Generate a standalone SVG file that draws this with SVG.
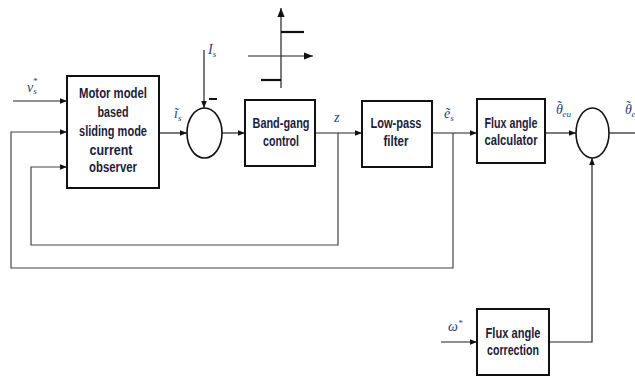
<svg xmlns="http://www.w3.org/2000/svg" width="635" height="377" viewBox="0 0 635 377">
<defs>
<marker id="arr" viewBox="0 0 10 10" refX="10" refY="5" markerWidth="7" markerHeight="7" markerUnits="userSpaceOnUse" orient="auto">
<path d="M0,1 L10,5 L0,9 z" fill="#111"/>
</marker>
<marker id="arrB" viewBox="0 0 10 10" refX="10" refY="5" markerWidth="9" markerHeight="9" markerUnits="userSpaceOnUse" orient="auto">
<path d="M0,1 L10,5 L0,9 z" fill="#111"/>
</marker>
</defs>
<style>
.box{fill:#fff;stroke:#111;stroke-width:2}
.sum{fill:#fff;stroke:#111;stroke-width:1.6}
.ln{fill:none;stroke:#222;stroke-width:1.2}
.fb{fill:none;stroke:#444;stroke-width:1.2}
.t{font-family:"Liberation Sans",Arial,sans-serif;font-size:14px;font-weight:bold;fill:#1c1c3c;text-anchor:middle}
.lab{font-family:"Liberation Serif","Times New Roman",serif;font-style:italic;font-size:14px;fill:#2a3f78}
.sub{font-size:9px}
</style>
<rect width="635" height="377" fill="#fff"/>

<g id="connectors">
<line class="ln" x1="13" y1="101" x2="67" y2="101" marker-end="url(#arr)"/>
<polyline class="fb" points="453,133 453,268 11,268 11,132 67,132" marker-end="url(#arr)"/>
<polyline class="fb" points="338,133 338,245 31,245 31,167 67,167" marker-end="url(#arr)"/>
<line class="ln" x1="159" y1="133" x2="187" y2="133" marker-end="url(#arr)"/>
<line class="ln" x1="204" y1="50" x2="204" y2="108" marker-end="url(#arr)"/>
<line class="ln" x1="222" y1="133" x2="245" y2="133" marker-end="url(#arr)"/>
<line class="ln" x1="315" y1="133" x2="362" y2="133" marker-end="url(#arr)"/>
<line class="ln" x1="432" y1="133" x2="477" y2="133" marker-end="url(#arr)"/>
<line class="ln" x1="545" y1="133" x2="576" y2="133" marker-end="url(#arr)"/>
<line class="ln" x1="609" y1="133" x2="635" y2="133"/>
<line class="ln" x1="441" y1="342" x2="477" y2="342" marker-end="url(#arr)"/>
<polyline class="ln" points="549,342 592,342 592,158" marker-end="url(#arr)"/>
</g>

<g id="characteristic">
<line class="ln" x1="281" y1="88" x2="281" y2="8" marker-end="url(#arrB)"/>
<line class="ln" x1="248" y1="56" x2="313" y2="56" marker-end="url(#arrB)"/>
<line x1="281" y1="32" x2="304" y2="32" stroke="#111" stroke-width="2.2"/>
<line x1="261" y1="80" x2="281" y2="80" stroke="#111" stroke-width="2.2"/>
</g>

<g id="observer">
<rect class="box" x="67" y="76" width="92" height="112"/>
<text class="t" x="113" y="98" textLength="68" lengthAdjust="spacingAndGlyphs">Motor model</text>
<text class="t" x="113" y="117" textLength="31" lengthAdjust="spacingAndGlyphs">based</text>
<text class="t" x="113" y="136" textLength="68" lengthAdjust="spacingAndGlyphs">sliding mode</text>
<text class="t" x="111" y="155" textLength="43" lengthAdjust="spacingAndGlyphs">current</text>
<text class="t" x="113" y="172" textLength="48" lengthAdjust="spacingAndGlyphs">observer</text>
</g>

<g id="sum1">
<ellipse class="sum" cx="204.5" cy="133" rx="17.5" ry="25"/>
<line x1="209" y1="99" x2="217" y2="99" stroke="#111" stroke-width="2"/>
</g>

<g id="bangbang">
<rect class="box" x="245" y="100" width="70" height="66"/>
<text class="t" x="281" y="128" textLength="57" lengthAdjust="spacingAndGlyphs">Band-gang</text>
<text class="t" x="281" y="146" textLength="36" lengthAdjust="spacingAndGlyphs">control</text>
</g>

<g id="lowpass">
<rect class="box" x="362" y="101" width="70" height="66"/>
<text class="t" x="396" y="128" textLength="51" lengthAdjust="spacingAndGlyphs">Low-pass</text>
<text class="t" x="396" y="146" textLength="25" lengthAdjust="spacingAndGlyphs">filter</text>
</g>

<g id="fluxcalc">
<rect class="box" x="477" y="99" width="68" height="64"/>
<text class="t" x="511" y="128" textLength="53" lengthAdjust="spacingAndGlyphs">Flux angle</text>
<text class="t" x="511" y="145" textLength="53" lengthAdjust="spacingAndGlyphs">calculator</text>
</g>

<g id="sum2">
<ellipse class="sum" cx="592.5" cy="133" rx="16.5" ry="25"/>
</g>

<g id="fluxcorr">
<rect class="box" x="477" y="309" width="72" height="66"/>
<text class="t" x="513" y="338" textLength="55" lengthAdjust="spacingAndGlyphs">Flux angle</text>
<text class="t" x="513" y="355" textLength="52" lengthAdjust="spacingAndGlyphs">correction</text>
</g>

<g id="labels">
<text class="lab" x="27" y="92">v<tspan class="sub" dy="2">s</tspan><tspan class="sub" dx="-4" dy="-10">*</tspan></text>
<text class="lab" x="208" y="54">I<tspan class="sub" dy="3">s</tspan></text>
<text class="lab" x="174" y="118">ĩ<tspan class="sub" dy="3">s</tspan></text>
<text class="lab" x="334" y="122">z</text>
<text class="lab" x="444" y="118">ẽ<tspan class="sub" dy="3">s</tspan></text>
<text class="lab" x="556" y="114" dx="0 -6.5" dy="0 -3">θ˜<tspan class="sub" dx="1.5" dy="6">eu</tspan></text>
<text class="lab" x="625" y="114" dx="0 -6.5" dy="0 -3">θ˜<tspan class="sub" dx="1.5" dy="6">e</tspan></text>
<text class="lab" x="448" y="331">ω<tspan class="sub" dy="-5">*</tspan></text>
</g>
</svg>
